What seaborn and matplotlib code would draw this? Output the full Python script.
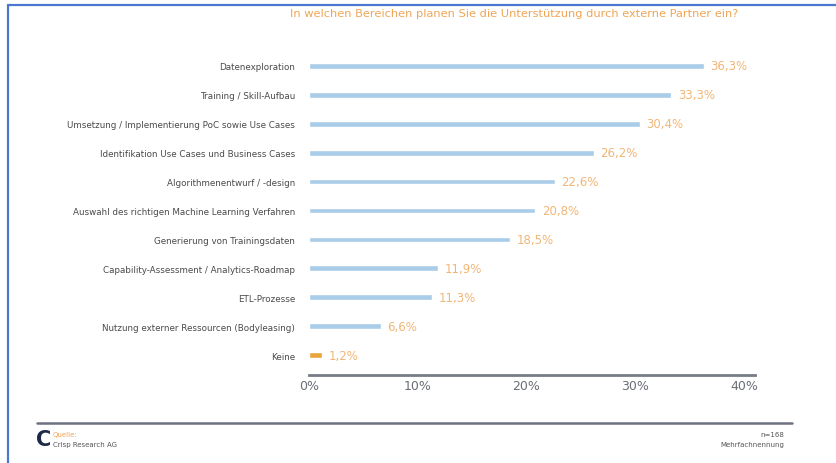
import matplotlib
matplotlib.use("Agg")
import matplotlib.pyplot as plt
from matplotlib.lines import Line2D
import seaborn as sns
import pandas as pd

categories = [
    "Datenexploration",
    "Training / Skill-Aufbau",
    "Umsetzung / Implementierung PoC sowie Use Cases",
    "Identifikation Use Cases und Business Cases",
    "Algorithmenentwurf / -design",
    "Auswahl des richtigen Machine Learning Verfahren",
    "Generierung von Trainingsdaten",
    "Capability-Assessment / Analytics-Roadmap",
    "ETL-Prozesse",
    "Nutzung externer Ressourcen (Bodyleasing)",
    "Keine",
]
values = [36.3, 33.3, 30.4, 26.2, 22.6, 20.8, 18.5, 11.9, 11.3, 6.6, 1.2]
xticks = [0, 10, 20, 30, 40]
xticklabels = ["0%", "10%", "20%", "30%", "40%"]

title = "In welchen Bereichen planen Sie die Unterstützung durch externe Partner ein?"

blue = "#a9cde9"
orange_bar = "#e8a53c"
label_orange = "#f1b676"
colors = [blue] * (len(categories) - 1) + [orange_bar]

df = pd.DataFrame({"cat": categories, "val": values})

sns.set_theme(style="white")
plt.rcParams["font.family"] = ["DejaVu Sans"]

W, H = 836, 464
fig = plt.figure(figsize=(W / 100, H / 100), dpi=100)
fig.patch.set_facecolor("white")

ax_left, ax_right = 309, 755
ax_top, ax_bottom = 52.5, 376
ax = fig.add_axes([ax_left / W, (H - ax_bottom) / H, (ax_right - ax_left) / W, (ax_bottom - ax_top) / H])

sns.barplot(data=df, x="val", y="cat", hue="cat", palette=colors, legend=False,
            width=0.2, ax=ax, saturation=1)

ax.set_xlim(0, 41)
ax.set_ylim(10.69, -0.5)
ax.set_xlabel("")
ax.set_ylabel("")
for s in ["top", "right", "left"]:
    ax.spines[s].set_visible(False)
ax.spines["bottom"].set_color("#777b85")
ax.spines["bottom"].set_linewidth(2)
ax.set_xticks(xticks)
ax.set_xticklabels(xticklabels, fontsize=9, color="#6b6e76")
ax.tick_params(axis="x", length=0, pad=3)
ax.tick_params(axis="y", length=0, pad=10, labelsize=6.3, labelcolor="#4a4a4a")
ax.set_facecolor("none")

for i, v in enumerate(values):
    ax.text(v + 0.6, i, f"{v:.1f}%".replace(".", ","), va="center", ha="left",
            fontsize=8.5, color=label_orange)

fig.text(290 / W, 1 - 14 / H, title, fontsize=8.2, color="#f0a556", va="center", ha="left")

# frame lines
fig.add_artist(Line2D([8 / W, 1], [1 - 5.5 / H, 1 - 5.5 / H], transform=fig.transFigure,
                      color="#4a78d0", lw=1.6))
fig.add_artist(Line2D([8 / W, 8 / W], [0, 1 - 5.5 / H], transform=fig.transFigure,
                      color="#4a78d0", lw=1.6))
# footer line
fig.add_artist(Line2D([37 / W, 792 / W], [1 - 424 / H, 1 - 424 / H], transform=fig.transFigure,
                      color="#6d7180", lw=1.8))

# footer
fig.text(36 / W, 1 - 440 / H, "C", fontsize=15, fontweight="bold", color="#1c2a48",
         va="center", ha="left")
fig.text(53 / W, 1 - 435 / H, "Quelle:", fontsize=5, color="#f0a556", va="center", ha="left")
fig.text(53 / W, 1 - 445 / H, "Crisp Research AG", fontsize=5, color="#555555", va="center", ha="left")
fig.text(784 / W, 1 - 435 / H, "n=168", fontsize=5, color="#555555", va="center", ha="right")
fig.text(784 / W, 1 - 445 / H, "Mehrfachnennung", fontsize=5, color="#555555", va="center", ha="right")

fig.savefig("out.png", dpi=100, facecolor="white")
